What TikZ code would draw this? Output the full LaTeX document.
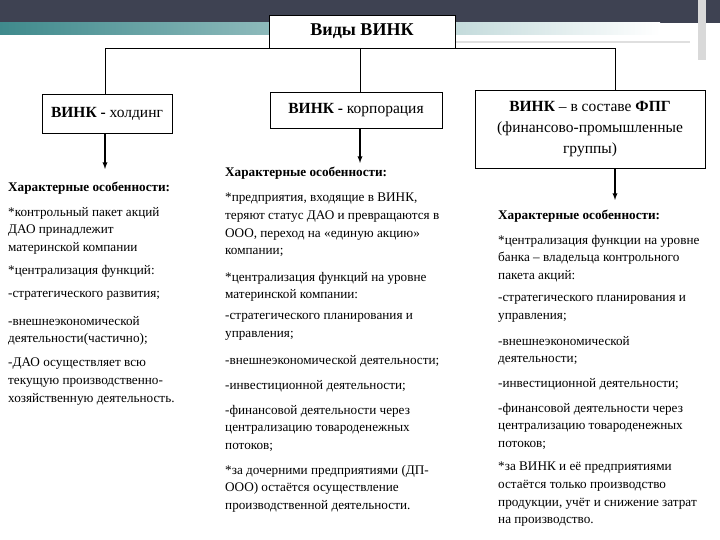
\documentclass[tikz,border=0pt]{standalone}
\usepackage{fontspec}
\setmainfont{Liberation Serif}
\definecolor{darkband}{HTML}{3E4252}
\definecolor{tealband}{HTML}{3F8A8C}
\begin{document}
\begin{tikzpicture}[x=1pt,y=-1pt,
  box/.style={draw=black,line width=0.8pt,fill=white,inner sep=0pt,align=center},
  txt/.style={anchor=north west,align=left,inner sep=0pt,font=\fontsize{13.2}{17.6}\selectfont},
  hdr/.style={txt,font=\fontsize{13.2}{17.6}\selectfont\bfseries},
  conn/.style={line width=0.8pt},
  arr/.style={line width=1.3pt,-latex}]
\useasboundingbox (0,0) rectangle (720,540);
\fill[white] (0,0) rectangle (720,540);
\fill[darkband] (0,0) rectangle (720,23);
\shade[left color=tealband,right color=white] (0,23) rectangle (660,35);
\fill[gray!30] (698,0) rectangle (706,60);
\draw[gray!25,line width=1.5pt] (455,42) -- (690,42);
% boxes
\node[box,minimum width=186pt,minimum height=33pt,font=\fontsize{18}{20}\selectfont\bfseries] (top) at (362,31.5) {Виды ВИНК};
\node[box,minimum width=130pt,minimum height=39pt,font=\fontsize{15.5}{18}\selectfont] (b1) at (107,113.5) {\textbf{ВИНК -} холдинг};
\node[box,minimum width=172pt,minimum height=36pt,font=\fontsize{15.5}{18}\selectfont] (b2) at (356,110) {\textbf{ВИНК -} корпорация};
\node[box,minimum width=230pt,minimum height=78pt,font=\fontsize{15.5}{21}\selectfont] (b3) at (590,129) {\textbf{ВИНК} – в составе \textbf{ФПГ}\\(финансово-промышленные\\группы)};
\draw[conn] (105,94) |- (615,48) -- (615,90);
\draw[conn] (360,48) -- (360,92);
\coordinate (a1) at (105,169);
\coordinate (a2) at (360,163);
\coordinate (a3) at (615,200);
\draw[arr] (b1.south -| a1) -- (a1);
\draw[arr] (b2.south -| a2) -- (a2);
\draw[arr] (b3.south -| a3) -- (a3);
% left column
\node[hdr] (l0) at (8,182) {Характерные особенности:};
\node[txt] (l1) at (8,207) {*контрольный пакет акций\\ДАО принадлежит\\материнской компании};
\node[txt] (l2) at (8,265) {*централизация функций:};
\node[txt] (l3) at (8,291) {-стратегического развития;};
\node[txt] (l4) at (8,316) {-внешнеэкономической\\деятельности(частично);};
\node[txt] (l5) at (8,358) {-ДАО осуществляет всю\\текущую производственно-\\хозяйственную деятельность.};
% middle column
\node[hdr] (m0) at (225,167) {Характерные особенности:};
\node[txt] (m1) at (225,193) {*предприятия, входящие в ВИНК,\\теряют статус ДАО и превращаются в\\ООО, переход на «единую акцию»\\компании;};
\node[txt] (m2) at (225,272) {*централизация функций на уровне\\материнской компании:};
\node[txt] (m3) at (225,313) {-стратегического планирования и\\управления;};
\node[txt] (m4) at (225,355) {-внешнеэкономической деятельности;};
\node[txt] (m5) at (225,380) {-инвестиционной деятельности;};
\node[txt] (m6) at (225,405) {-финансовой деятельности через\\централизацию товароденежных\\потоков;};
\node[txt] (m7) at (225,465) {*за дочерними предприятиями (ДП-\\ООО) остаётся осуществление\\производственной деятельности.};
% right column
\node[hdr] (r0) at (498,210) {Характерные особенности:};
\node[txt] (r1) at (498,235) {*централизация функции на уровне\\банка – владельца контрольного\\пакета акций:};
\node[txt] (r2) at (498,295) {-стратегического планирования и\\управления;};
\node[txt] (r3) at (498,336) {-внешнеэкономической\\деятельности;};
\node[txt] (r4) at (498,378) {-инвестиционной деятельности;};
\node[txt] (r5) at (498,403) {-финансовой деятельности через\\централизацию товароденежных\\потоков;};
\node[txt] (r6) at (498,462) {*за ВИНК и её предприятиями\\остаётся только производство\\продукции, учёт и снижение затрат\\на производство.};
\end{tikzpicture}
\end{document}
